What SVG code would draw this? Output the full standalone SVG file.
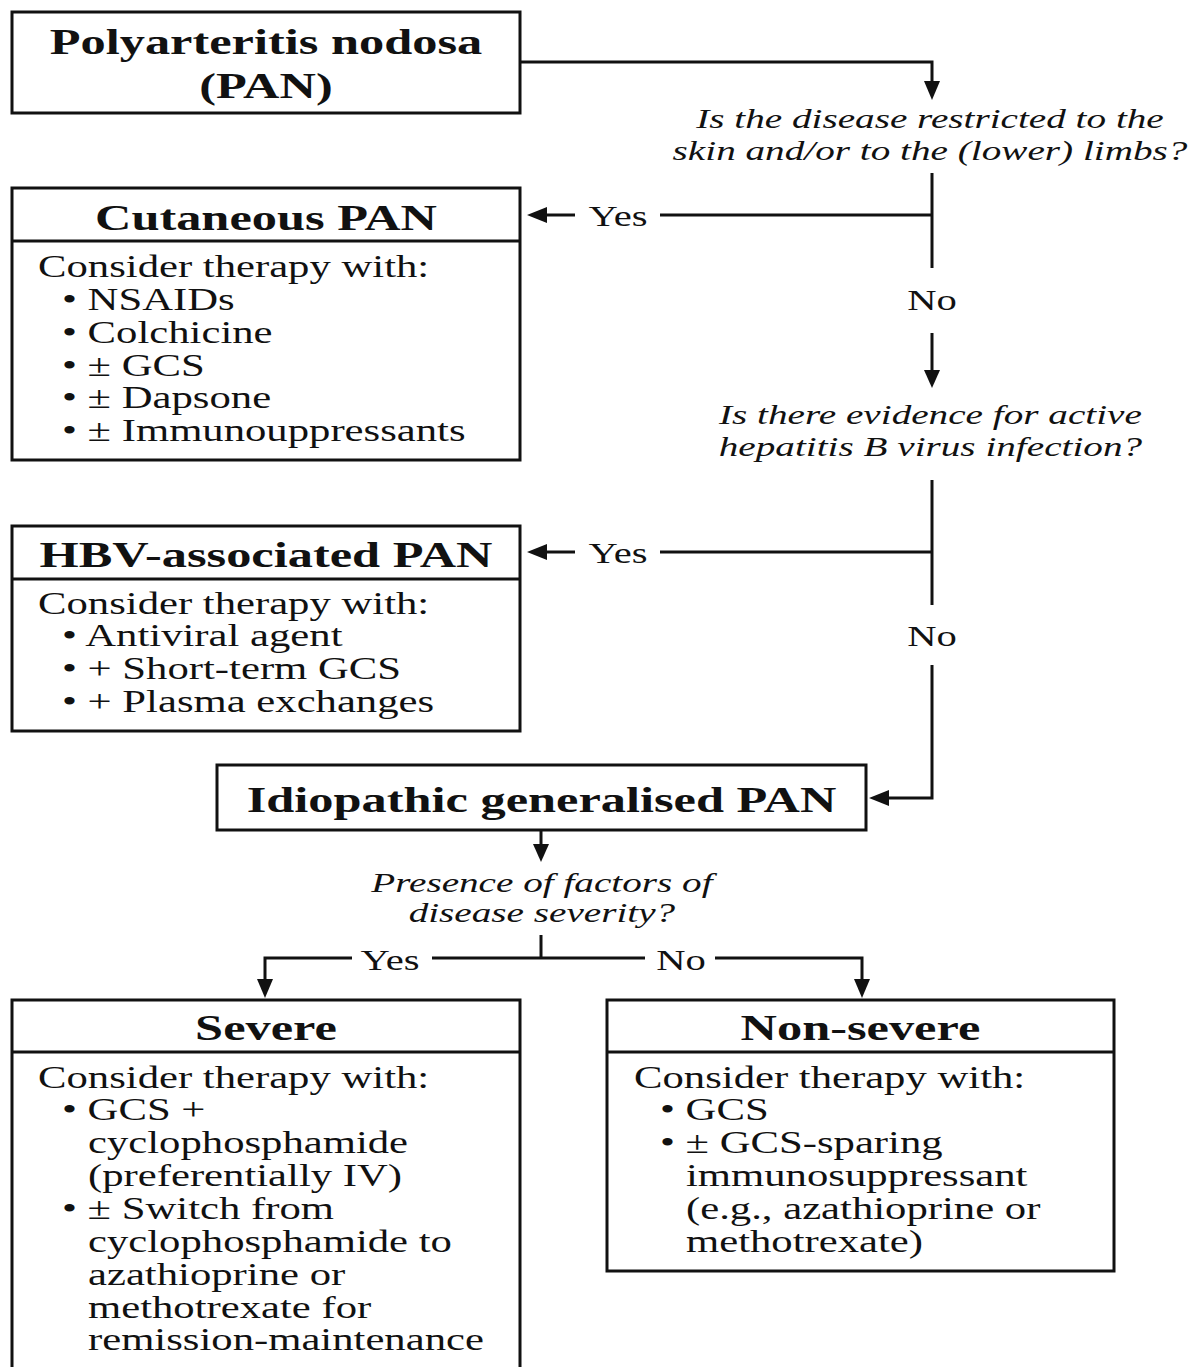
<svg xmlns="http://www.w3.org/2000/svg" width="1192" height="1367" viewBox="0 0 1192 1367">
<style>
.box{fill:#fff;stroke:#111;stroke-width:3}
.div{stroke:#111;stroke-width:3}
.ln{fill:none;stroke:#111;stroke-width:3}
.ah{fill:#111}
text{font-family:"Liberation Serif","Times New Roman",serif;fill:#111}
.ttl{font-weight:bold;font-size:36px;text-anchor:middle}
.bd{font-size:30.5px}
.q{font-style:italic;font-size:28px;text-anchor:middle}
.lbl{font-size:29px;text-anchor:middle}
</style>
<rect x="0" y="0" width="1192" height="1367" fill="#fff"/>

<g id="connectors">
  <path class="ln" d="M520,62 H932 V82"/>
  <polygon class="ah" points="924,81 940,81 932,100"/>
  <path class="ln" d="M932,173 V268"/>
  <path class="ln" d="M932,215 H660"/>
  <path class="ln" d="M575,215 H545"/>
  <polygon class="ah" points="547,207 547,223 527,215"/>
  <path class="ln" d="M932,333 V371"/>
  <polygon class="ah" points="924,370 940,370 932,388"/>
  <path class="ln" d="M932,480 V605"/>
  <path class="ln" d="M932,552 H660"/>
  <path class="ln" d="M575,552 H545"/>
  <polygon class="ah" points="547,544 547,560 527,552"/>
  <path class="ln" d="M932,665 V798 H887"/>
  <polygon class="ah" points="889,790 889,806 869,798"/>
  <path class="ln" d="M541,830 V845"/>
  <polygon class="ah" points="533,844 549,844 541,862"/>
  <path class="ln" d="M541,935 V958"/>
  <path class="ln" d="M352,958 H265 V980"/>
  <polygon class="ah" points="257,979 273,979 265,998"/>
  <path class="ln" d="M432,958 H645"/>
  <path class="ln" d="M715,958 H862 V980"/>
  <polygon class="ah" points="854,979 870,979 862,998"/>
  <g transform="scale(1.4 1)">
    <text class="q" x="664.3" y="128">Is the disease restricted to the</text>
    <text class="q" x="664.3" y="160">skin and/or to the (lower) limbs?</text>
    <text class="q" x="664.6" y="424">Is there evidence for active</text>
    <text class="q" x="664.6" y="456">hepatitis B virus infection?</text>
    <text class="q" x="387.1" y="892">Presence of factors of</text>
    <text class="q" x="387.1" y="922">disease severity?</text>
    <text class="lbl" x="441.4" y="226">Yes</text>
    <text class="lbl" x="665.7" y="310">No</text>
    <text class="lbl" x="441.4" y="563">Yes</text>
    <text class="lbl" x="665.7" y="646">No</text>
    <text class="lbl" x="278.6" y="970">Yes</text>
    <text class="lbl" x="486.4" y="970">No</text>
  </g>
</g>

<g id="pan">
  <rect class="box" x="12" y="12" width="508" height="101"/>
  <g transform="scale(1.4 1)">
    <text class="ttl" x="190" y="54">Polyarteritis nodosa</text>
    <text class="ttl" x="190" y="98">(PAN)</text>
  </g>
</g>

<g id="cutaneous">
  <rect class="box" x="12" y="188" width="508" height="272"/>
  <line class="div" x1="12" y1="241" x2="520" y2="241"/>
  <g transform="scale(1.4 1)">
    <text class="ttl" x="190" y="230">Cutaneous PAN</text>
    <text class="bd" x="27.14" y="277">Consider therapy with:</text>
    <text class="bd" x="44.29" y="310">• NSAIDs</text>
    <text class="bd" x="44.29" y="343">• Colchicine</text>
    <text class="bd" x="44.29" y="376">• ± GCS</text>
    <text class="bd" x="44.29" y="408">• ± Dapsone</text>
    <text class="bd" x="44.29" y="441">• ± Immunouppressants</text>
  </g>
</g>

<g id="hbv">
  <rect class="box" x="12" y="526" width="508" height="205"/>
  <line class="div" x1="12" y1="579" x2="520" y2="579"/>
  <g transform="scale(1.4 1)">
    <text class="ttl" x="190" y="567">HBV-associated PAN</text>
    <text class="bd" x="27.14" y="614">Consider therapy with:</text>
    <text class="bd" x="44.29" y="646">• Antiviral agent</text>
    <text class="bd" x="44.29" y="679">• + Short-term GCS</text>
    <text class="bd" x="44.29" y="712">• + Plasma exchanges</text>
  </g>
</g>

<g id="idiopathic">
  <rect class="box" x="217" y="765" width="649" height="65"/>
  <g transform="scale(1.4 1)">
    <text class="ttl" x="386.8" y="812">Idiopathic generalised PAN</text>
  </g>
</g>

<g id="severe">
  <rect class="box" x="12" y="1000" width="508" height="375"/>
  <line class="div" x1="12" y1="1052" x2="520" y2="1052"/>
  <g transform="scale(1.4 1)">
    <text class="ttl" x="190" y="1040">Severe</text>
    <text class="bd" x="27.14" y="1088">Consider therapy with:</text>
    <text class="bd" x="44.29" y="1120">• GCS +</text>
    <text class="bd" x="62.86" y="1153">cyclophosphamide</text>
    <text class="bd" x="62.86" y="1186">(preferentially IV)</text>
    <text class="bd" x="44.29" y="1219">• ± Switch from</text>
    <text class="bd" x="62.86" y="1252">cyclophosphamide to</text>
    <text class="bd" x="62.86" y="1285">azathioprine or</text>
    <text class="bd" x="62.86" y="1318">methotrexate for</text>
    <text class="bd" x="62.86" y="1350">remission-maintenance</text>
  </g>
</g>

<g id="nonsevere">
  <rect class="box" x="607" y="1000" width="507" height="271"/>
  <line class="div" x1="607" y1="1052" x2="1114" y2="1052"/>
  <g transform="scale(1.4 1)">
    <text class="ttl" x="614.6" y="1040">Non-severe</text>
    <text class="bd" x="452.86" y="1088">Consider therapy with:</text>
    <text class="bd" x="471.43" y="1120">• GCS</text>
    <text class="bd" x="471.43" y="1153">• ± GCS-sparing</text>
    <text class="bd" x="490" y="1186">immunosuppressant</text>
    <text class="bd" x="490" y="1219">(e.g., azathioprine or</text>
    <text class="bd" x="490" y="1252">methotrexate)</text>
  </g>
</g>
</svg>
